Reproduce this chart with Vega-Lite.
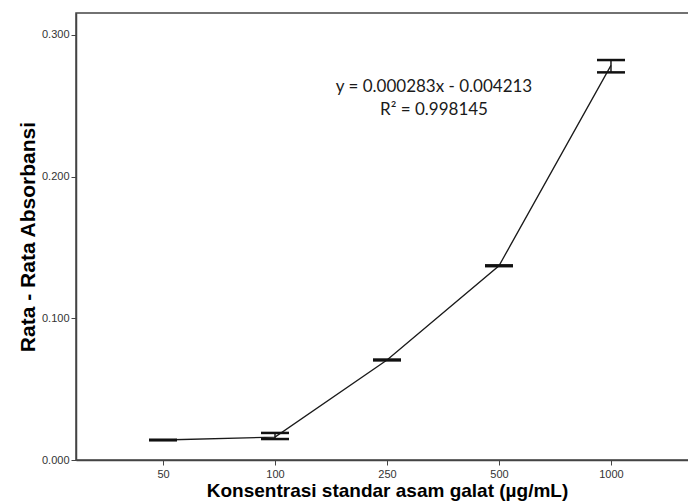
{
  "$schema": "https://vega.github.io/schema/vega-lite/v6.json",
  "width": 622,
  "height": 447,
  "autosize": {"type": "none"},
  "padding": {"left": 76, "top": 13, "right": 0, "bottom": 41},
  "background": "white",
  "config": {
    "view": {"stroke": "#444444", "strokeWidth": 1.5},
    "font": "Liberation Sans"
  },
  "datasets": {
    "pts": [
      {"konsentrasi": "50", "mean": 0.0141, "lo": 0.0139, "hi": 0.0143},
      {"konsentrasi": "100", "mean": 0.0162, "lo": 0.0148, "hi": 0.0191},
      {"konsentrasi": "250", "mean": 0.0706, "lo": 0.0703, "hi": 0.0709},
      {"konsentrasi": "500", "mean": 0.1371, "lo": 0.1368, "hi": 0.1374},
      {"konsentrasi": "1000", "mean": 0.2785, "lo": 0.2736, "hi": 0.2823}
    ],
    "notes": [
      {"konsentrasi": "250", "y": 0.263, "label": "y = 0.000283x - 0.004213"},
      {"konsentrasi": "250", "y": 0.247, "label": "R² = 0.998145"}
    ]
  },
  "encoding": {
    "x": {
      "field": "konsentrasi",
      "type": "nominal",
      "sort": ["50", "100", "250", "500", "1000"],
      "scale": {"type": "point", "padding": 0.777},
      "axis": {
        "title": "Konsentrasi standar asam galat (µg/mL)",
        "titleFont": "Liberation Sans",
        "titleFontSize": 19,
        "titleFontWeight": "bold",
        "titleColor": "#000000",
        "titlePadding": 2,
        "labelAngle": 0,
        "labelFontSize": 11,
        "labelColor": "#333333",
        "labelPadding": 3,
        "tickSize": 5,
        "tickColor": "#444444",
        "domainColor": "#444444",
        "domainWidth": 1.5,
        "grid": false
      }
    }
  },
  "layer": [
    {
      "data": {"name": "pts"},
      "mark": {"type": "line", "color": "#1a1a1a", "strokeWidth": 1.3},
      "encoding": {
        "y": {
          "field": "mean",
          "type": "quantitative",
          "scale": {"domain": [0, 0.3155], "nice": false, "zero": true},
          "axis": {
            "title": "Rata - Rata Absorbansi",
            "titleFont": "Liberation Sans",
            "titleFontSize": 21,
            "titleFontWeight": "bold",
            "titleColor": "#000000",
            "titlePadding": 3,
            "values": [0, 0.1, 0.2, 0.3],
            "format": ".3f",
            "labelFontSize": 11,
            "labelColor": "#333333",
            "labelPadding": 2,
            "tickSize": 5,
            "tickColor": "#444444",
            "domainColor": "#444444",
            "domainWidth": 1.5,
            "grid": false
          }
        }
      }
    },
    {
      "data": {"name": "pts"},
      "mark": {"type": "rule", "color": "#1a1a1a", "strokeWidth": 1.5},
      "encoding": {
        "y": {"field": "lo", "type": "quantitative"},
        "y2": {"field": "hi"}
      }
    },
    {
      "data": {"name": "pts"},
      "mark": {"type": "tick", "color": "#111111", "size": 28, "thickness": 2.5, "opacity": 1},
      "encoding": {"y": {"field": "lo", "type": "quantitative"}}
    },
    {
      "data": {"name": "pts"},
      "mark": {"type": "tick", "color": "#111111", "size": 28, "thickness": 2.5, "opacity": 1},
      "encoding": {"y": {"field": "hi", "type": "quantitative"}}
    },
    {
      "data": {"name": "notes"},
      "mark": {"type": "text", "font": "Lato", "fontSize": 17, "color": "#1a1a1a", "align": "center", "baseline": "middle", "dx": 47},
      "encoding": {
        "y": {"field": "y", "type": "quantitative"},
        "text": {"field": "label"}
      }
    }
  ]
}
